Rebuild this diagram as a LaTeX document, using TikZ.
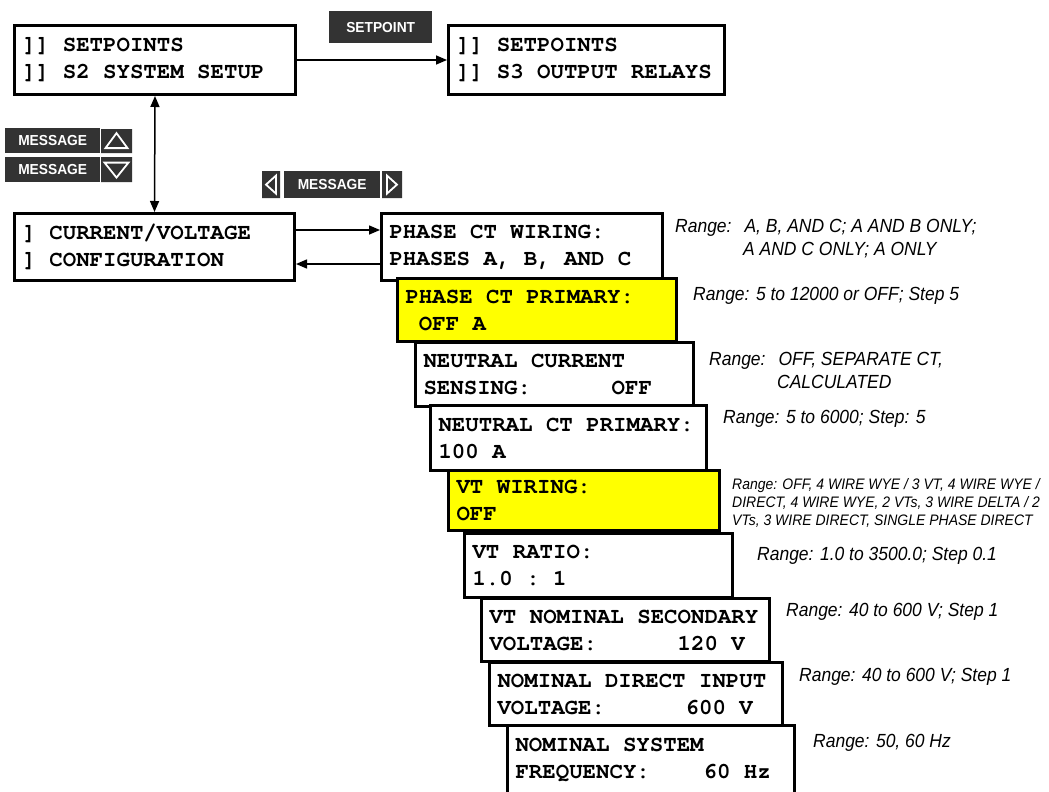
\documentclass[tikz,border=0pt]{standalone}
\usepackage{fontspec}
\usepackage{tikz}
\usetikzlibrary{shapes.misc,arrows.meta}

\newfontfamily\notefont[FakeStretch=0.92]{Liberation Sans}
\newfontfamily\keyfont[FakeStretch=0.95]{Liberation Sans}
% bold Courier for the relay display screens
\newfontfamily\cursorfont{texgyrecursor-bold.otf}
\newcommand{\lcdfont}{\cursorfont\fontsize{22.4}{27}\selectfont\frenchspacing}
% every blank on the display is one full character cell
\newcommand{\lcdcells}{\spaceskip=13.44pt\relax\xspaceskip=13.44pt\relax}
\definecolor{keygray}{RGB}{51,51,51}
\definecolor{lcdyellow}{RGB}{255,255,0}

\begin{document}
\begin{tikzpicture}[x=1pt,y=-1pt,
    screen/.style={draw,line width=3pt,fill=white,anchor=north west,align=left,
                   inner xsep=8pt,inner ysep=0pt,font=\lcdfont,execute at begin node=\lcdcells},
    lit/.style={screen,fill=lcdyellow},
    key/.style={fill=keygray,text=white,anchor=north west,inner sep=0pt,
                font=\keyfont\bfseries\fontsize{14.5}{15}\selectfont},
    keycap/.style={chamfered rectangle,chamfered rectangle xsep=5pt,chamfered rectangle ysep=5pt,
                   fill=keygray,anchor=north west,inner sep=0pt},
    keymark/.style={draw=white,line width=1.8pt,line join=miter},
    link/.style={line width=1.5pt,-{Triangle[length=11pt,width=9pt]}},
    note/.style={anchor=base west,inner sep=0pt,font=\notefont\itshape\fontsize{19}{24}\selectfont},
    smallnote/.style={note,font=\notefont\itshape\fontsize{15.2}{18}\selectfont}
  ]
  \useasboundingbox (0,0) rectangle (1049,792);

  % setpoint pages
  \node[screen,text width=265,minimum height=69] (s2) at (13,24) {]] SETPOINTS\\]] S2 SYSTEM SETUP};
  \node[screen,text width=260,minimum height=69] (s3) at (447,24) {]] SETPOINTS\\]] S3 OUTPUT RELAYS};
  \node[key,minimum width=103,minimum height=32] (setkey) at (329,11) {SETPOINT};
  \draw[link] (s2.east) -- (s3.west);

  % message keys
  \node[key,minimum width=95,minimum height=25] (msgup) at (5,128) {MESSAGE};
  \node[keycap,minimum width=31,minimum height=24] (upkey) at (101,129) {};
  \node[key,minimum width=95,minimum height=25] (msgdown) at (5,157) {MESSAGE};
  \node[keycap,minimum width=31,minimum height=25] (downkey) at (101,157) {};
  \draw[keymark] ([shift={(0,-8)}]upkey.center) -- ([shift={(11,7)}]upkey.center)
                 -- ([shift={(-11,7)}]upkey.center) -- cycle;
  \draw[keymark] ([shift={(0,8)}]downkey.center) -- ([shift={(12,-7)}]downkey.center)
                 -- ([shift={(-12,-7)}]downkey.center) -- cycle;

  \node[keycap,minimum width=18,minimum height=27] (leftkey) at (262,171) {};
  \node[key,minimum width=96,minimum height=27] (msglr) at (284,171) {MESSAGE};
  \node[keycap,minimum width=20,minimum height=27] (rightkey) at (382,171) {};
  \draw[keymark] ([shift={(-5,0)}]leftkey.center) -- ([shift={(5,-9)}]leftkey.center)
                 -- ([shift={(5,9)}]leftkey.center) -- cycle;
  \draw[keymark] ([shift={(5,0)}]rightkey.center) -- ([shift={(-5,-9)}]rightkey.center)
                 -- ([shift={(-5,9)}]rightkey.center) -- cycle;

  % current/voltage configuration
  \node[screen,text width=264,minimum height=67] (cv) at (13,212) {] CURRENT/VOLTAGE\\] CONFIGURATION};
  \draw[link,{Triangle[length=11pt,width=9pt]}-{Triangle[length=11pt,width=9pt]}] (s2.south) -- (cv.north);

  \node[screen,text width=265,minimum height=67] (pcw) at (380,212) {PHASE CT WIRING:\\PHASES A, B, AND C};
  \draw[link] ([yshift=17pt]cv.east) -- ([yshift=17pt]pcw.west);
  \draw[link] ([yshift=-17pt]pcw.west) -- ([yshift=-17pt]cv.east);

  \node[lit,text width=263,minimum height=63] (pcp) at (396,277) {PHASE CT PRIMARY:\\\phantom{0}OFF A};
  \node[screen,text width=262,minimum height=64] (ncs) at (414,341) {NEUTRAL CURRENT\\SENSING:\ \ \ \ \ \ OFF};
  \node[screen,text width=260,minimum height=65] (nctp) at (429,404) {NEUTRAL CT PRIMARY:\\100 A};
  \node[lit,text width=255,minimum height=60] (vtw) at (447,469) {VT WIRING:\\OFF};
  \node[screen,text width=252,minimum height=64] (vtr) at (463,532) {VT RATIO:\\1.0 : 1};
  \node[screen,text width=272,minimum height=63] (vtns) at (480,597) {VT NOMINAL SECONDARY\\VOLTAGE:\ \ \ \ \ \ 120 V};
  \node[screen,text width=277,minimum height=63] (ndi) at (488,661) {NOMINAL DIRECT INPUT\\VOLTAGE:\ \ \ \ \ \ 600 V};
  \node[screen,text width=271,minimum height=69] (nsf) at (506,724) {NOMINAL SYSTEM\\FREQUENCY:\ \ \ \ 60 Hz};

  % setting ranges
  \foreach \x/\y/\t [count=\n] in {
      675/232/{Range:\hspace{13pt}A, B, AND C; A AND B ONLY;},
      743/255/{A AND C ONLY; A ONLY},
      693/300/{Range: 5 to 12000 or OFF; Step 5},
      709/365/{Range:\hspace{13pt}OFF, SEPARATE CT,},
      777/388/{CALCULATED},
      723/423/{Range: 5 to 6000; Step: 5},
      757/560/{Range: 1.0 to 3500.0; Step 0.1},
      786/616/{Range: 40 to 600 V; Step 1},
      799/681/{Range: 40 to 600 V; Step 1},
      813/747/{Range: 50, 60 Hz}}
    \node[note] (range\n) at (\x,\y) {\t};
  \foreach \y/\t [count=\n] in {
      489/{Range: OFF, 4 WIRE WYE / 3 VT, 4 WIRE WYE /},
      507/{DIRECT, 4 WIRE WYE, 2 VTs, 3 WIRE DELTA / 2},
      525/{VTs, 3 WIRE DIRECT, SINGLE PHASE DIRECT}}
    \node[smallnote] (vtrange\n) at (732,\y) {\t};
\end{tikzpicture}
\end{document}
